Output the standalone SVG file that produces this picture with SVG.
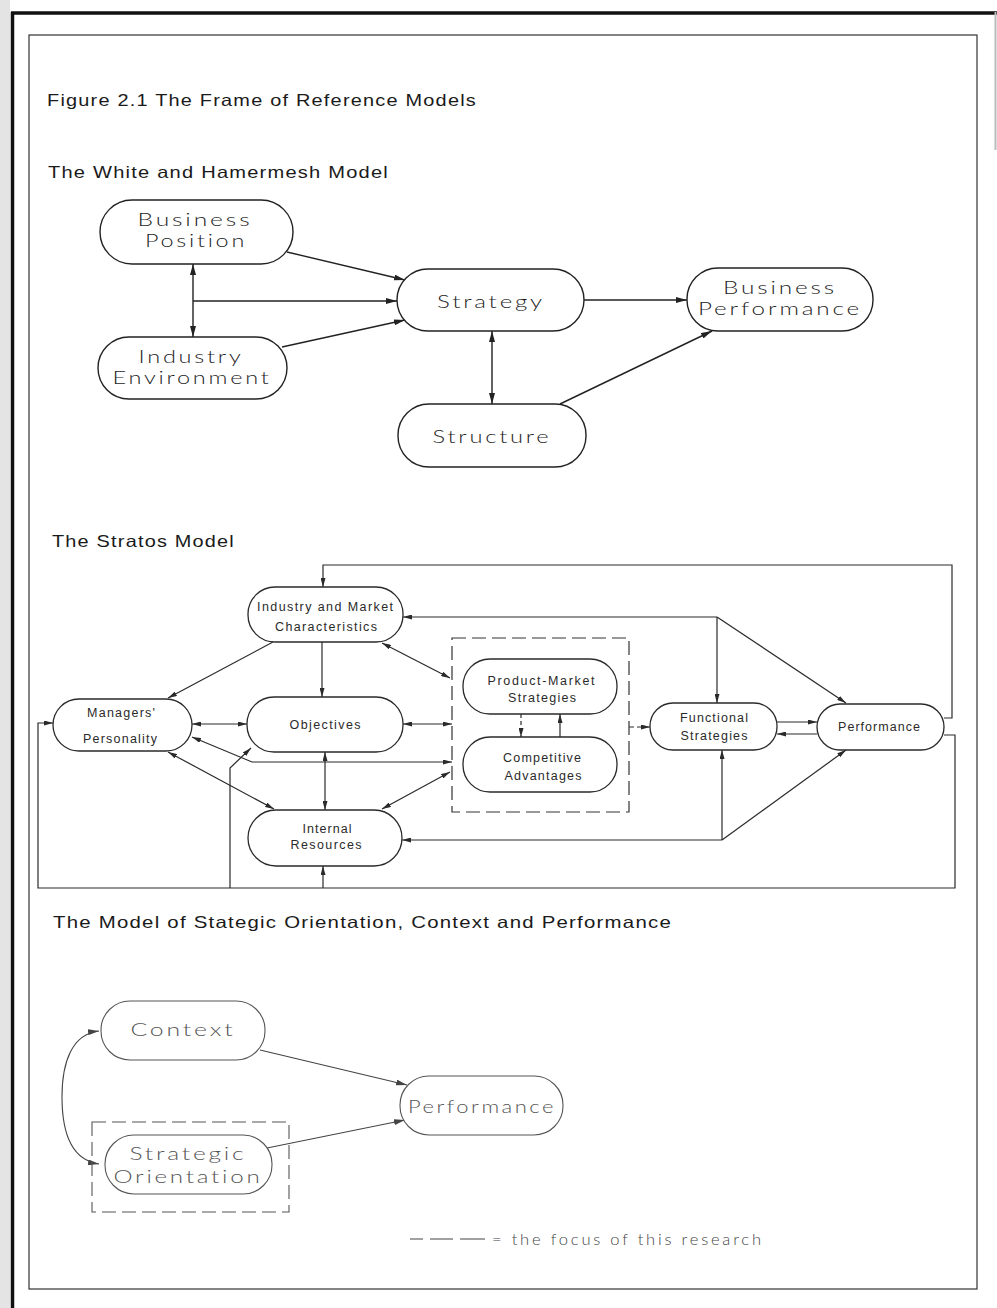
<svg xmlns="http://www.w3.org/2000/svg" width="997" height="1308" viewBox="0 0 997 1308">
  <style>
    .head { font-family: "Liberation Sans", Arial, sans-serif; font-size: 16.5px; letter-spacing: 1px; fill: #1a1a1a; }
    .wh { font-family: Lato, "Liberation Sans", Arial, sans-serif; font-weight: 300; font-size: 17px; letter-spacing: 2px; fill: #1e1e1e; text-anchor: middle; }
    .st { font-family: "Liberation Sans", Arial, sans-serif; font-size: 12.5px; fill: #2a2a2a; text-anchor: middle; }
    .sc { font-family: Lato, "Liberation Sans", Arial, sans-serif; font-weight: 300; font-size: 17.5px; letter-spacing: 2px; fill: #555; text-anchor: middle; }
    .legend { font-family: Lato, "Liberation Sans", Arial, sans-serif; font-weight: 300; font-size: 16.5px; fill: #444; }
    .box-wh { fill: #fff; stroke: #222; stroke-width: 1.4; }
    .box-st { fill: #fff; stroke: #2a2a2a; stroke-width: 1.3; }
    .box-sc { fill: #fff; stroke: #555; stroke-width: 1.1; }
    .dash { fill: none; stroke: #333; stroke-width: 1.2; stroke-dasharray: 14 6; }
    .dash-sc { fill: none; stroke: #555; stroke-width: 1.1; stroke-dasharray: 14 6; }
    .ln-wh { fill: none; stroke: #222; stroke-width: 1.4; }
    .ln-st { fill: none; stroke: #2a2a2a; stroke-width: 1.2; }
    .ln-sc { fill: none; stroke: #444; stroke-width: 1.1; }
  </style>
  <defs>
    <marker id="ah" viewBox="0 0 11 6" refX="11" refY="3" markerWidth="11" markerHeight="6" orient="auto-start-reverse" markerUnits="userSpaceOnUse">
      <path d="M0,0 L11,3 L0,6 z" fill="#222"/>
    </marker>
    <marker id="as" viewBox="0 0 9 5" refX="9" refY="2.5" markerWidth="9" markerHeight="5" orient="auto-start-reverse" markerUnits="userSpaceOnUse">
      <path d="M0,0 L9,2.5 L0,5 z" fill="#2a2a2a"/>
    </marker>
    <marker id="ac" viewBox="0 0 11 6" refX="11" refY="3" markerWidth="11" markerHeight="6" orient="auto-start-reverse" markerUnits="userSpaceOnUse">
      <path d="M0,0 L11,3 L0,6 z" fill="#444"/>
    </marker>
  </defs>

  <!-- page edge and outer rules -->
  <g id="page">
    <rect x="0" y="0" width="997" height="1308" fill="#fff"/>
    <rect x="0" y="0" width="10" height="1308" fill="#e4e4e4"/>
    <line x1="12.5" y1="12" x2="12.5" y2="1308" stroke="#111" stroke-width="3.5"/>
    <line x1="11" y1="13" x2="997" y2="13" stroke="#111" stroke-width="3.5"/>
    <line x1="995.5" y1="12" x2="995.5" y2="150" stroke="#bbb" stroke-width="2"/>
    <rect x="29" y="35" width="948" height="1254" fill="none" stroke="#333" stroke-width="1.2"/>
  </g>

  <!-- headings -->
  <g id="headings">
    <text class="head" x="47" y="106" textLength="430" lengthAdjust="spacingAndGlyphs">Figure 2.1 The Frame of Reference Models</text>
    <text class="head" x="48" y="178" textLength="341" lengthAdjust="spacingAndGlyphs">The White and Hamermesh Model</text>
    <text class="head" x="52" y="547" textLength="183" lengthAdjust="spacingAndGlyphs">The Stratos Model</text>
    <text class="head" x="53" y="928" textLength="619" lengthAdjust="spacingAndGlyphs">The Model of Stategic Orientation, Context and Performance</text>
  </g>

  <!-- White and Hamermesh: connectors -->
  <g id="wh-connectors">
    <path class="ln-wh" d="M287,252 L405,280" marker-end="url(#ah)"/>
    <path class="ln-wh" d="M193,264 V337" marker-start="url(#ah)" marker-end="url(#ah)"/>
    <path class="ln-wh" d="M193,301 H397" marker-end="url(#ah)"/>
    <path class="ln-wh" d="M282,347 L405,320" marker-end="url(#ah)"/>
    <path class="ln-wh" d="M584,300 H687" marker-end="url(#ah)"/>
    <path class="ln-wh" d="M492,331 V404" marker-start="url(#ah)" marker-end="url(#ah)"/>
    <path class="ln-wh" d="M560,404 L712,331" marker-end="url(#ah)"/>
  </g>

  <!-- White and Hamermesh: nodes -->
  <g id="wh-business-position">
    <rect class="box-wh" x="100" y="200" width="193" height="64" rx="32"/>
    <text class="wh" x="195" y="226" textLength="115" lengthAdjust="spacingAndGlyphs">Business</text>
    <text class="wh" x="196" y="247" textLength="102" lengthAdjust="spacingAndGlyphs">Position</text>
  </g>
  <g id="wh-industry-environment">
    <rect class="box-wh" x="98" y="337" width="189" height="62" rx="31"/>
    <text class="wh" x="191" y="363" textLength="105" lengthAdjust="spacingAndGlyphs">Industry</text>
    <text class="wh" x="192" y="384" textLength="159" lengthAdjust="spacingAndGlyphs">Environment</text>
  </g>
  <g id="wh-strategy">
    <rect class="box-wh" x="397" y="269" width="187" height="62" rx="31"/>
    <text class="wh" x="491" y="308" textLength="108" lengthAdjust="spacingAndGlyphs">Strategy</text>
  </g>
  <g id="wh-structure">
    <rect class="box-wh" x="398" y="404" width="188" height="63" rx="31"/>
    <text class="wh" x="492" y="443" textLength="119" lengthAdjust="spacingAndGlyphs">Structure</text>
  </g>
  <g id="wh-business-performance">
    <rect class="box-wh" x="687" y="268" width="186" height="63" rx="31"/>
    <text class="wh" x="780" y="294" textLength="114" lengthAdjust="spacingAndGlyphs">Business</text>
    <text class="wh" x="780" y="315" textLength="164" lengthAdjust="spacingAndGlyphs">Performance</text>
  </g>

  <!-- Stratos: connectors -->
  <g id="stratos-connectors">
    <!-- feedback loops around the model -->
    <path class="ln-st" d="M944,718 H952 V565 H323 V587" marker-end="url(#as)"/>
    <path class="ln-st" d="M944,735 H955 V888 H38 V723 H53" marker-end="url(#as)"/>
    <path class="ln-st" d="M323,888 V866" marker-end="url(#as)"/>
    <path class="ln-st" d="M230,888 V768 L251,748" marker-end="url(#as)"/>
    <!-- upper bracket -->
    <path class="ln-st" d="M717,617 H403" marker-end="url(#as)"/>
    <path class="ln-st" d="M717,617 V703" marker-end="url(#as)"/>
    <path class="ln-st" d="M717,617 L846,703" marker-end="url(#as)"/>
    <!-- lower bracket -->
    <path class="ln-st" d="M722,840 H402" marker-end="url(#as)"/>
    <path class="ln-st" d="M722,840 V750" marker-end="url(#as)"/>
    <path class="ln-st" d="M722,840 L846,750" marker-end="url(#as)"/>
    <!-- inner links -->
    <path class="ln-st" d="M273,642 L168,698" marker-end="url(#as)"/>
    <path class="ln-st" d="M322,642 V697" marker-end="url(#as)"/>
    <path class="ln-st" d="M382,643 L450,678" marker-start="url(#as)" marker-end="url(#as)"/>
    <path class="ln-st" d="M192,724 H247" marker-start="url(#as)" marker-end="url(#as)"/>
    <path class="ln-st" d="M403,724 H452" marker-start="url(#as)" marker-end="url(#as)"/>
    <path class="ln-st" d="M192,737 L252,762 H452" marker-start="url(#as)" marker-end="url(#as)"/>
    <path class="ln-st" d="M168,752 L274,809" marker-start="url(#as)" marker-end="url(#as)"/>
    <path class="ln-st" d="M325,752 V810" marker-start="url(#as)" marker-end="url(#as)"/>
    <path class="ln-st" d="M382,809 L450,772" marker-start="url(#as)" marker-end="url(#as)"/>
    <path class="ln-st" d="M521,714 V737" stroke-dasharray="4 3" marker-end="url(#as)"/>
    <path class="ln-st" d="M560,737 V714" marker-end="url(#as)"/>
    <path class="ln-st" d="M629,727 H650" stroke-dasharray="5 3" marker-end="url(#as)"/>
    <path class="ln-st" d="M777,722 H817" marker-end="url(#as)"/>
    <path class="ln-st" d="M817,734 H777" marker-end="url(#as)"/>
  </g>

  <!-- Stratos: nodes -->
  <g id="st-focus-box">
    <rect class="dash" x="452" y="638" width="177" height="174"/>
  </g>
  <g id="st-industry-market">
    <rect class="box-st" x="248" y="587" width="155" height="55" rx="27"/>
    <text class="st" x="325" y="611" textLength="136" lengthAdjust="spacing">Industry and Market</text>
    <text class="st" x="326" y="631" textLength="102" lengthAdjust="spacing">Characteristics</text>
  </g>
  <g id="st-managers-personality">
    <rect class="box-st" x="53" y="699" width="139" height="52" rx="26"/>
    <text class="st" x="121" y="717" textLength="68" lengthAdjust="spacing">Managers'</text>
    <text class="st" x="120" y="743" textLength="74" lengthAdjust="spacing">Personality</text>
  </g>
  <g id="st-objectives">
    <rect class="box-st" x="247" y="697" width="156" height="55" rx="27"/>
    <text class="st" x="325" y="729" textLength="71" lengthAdjust="spacing">Objectives</text>
  </g>
  <g id="st-internal-resources">
    <rect class="box-st" x="248" y="810" width="154" height="56" rx="28"/>
    <text class="st" x="327" y="833" textLength="49" lengthAdjust="spacing">Internal</text>
    <text class="st" x="326" y="849" textLength="71" lengthAdjust="spacing">Resources</text>
  </g>
  <g id="st-product-market">
    <rect class="box-st" x="463" y="659" width="154" height="55" rx="27"/>
    <text class="st" x="541" y="685" textLength="107" lengthAdjust="spacing">Product-Market</text>
    <text class="st" x="542" y="702" textLength="68" lengthAdjust="spacing">Strategies</text>
  </g>
  <g id="st-competitive-advantages">
    <rect class="box-st" x="463" y="737" width="154" height="55" rx="27"/>
    <text class="st" x="542" y="762" textLength="78" lengthAdjust="spacing">Competitive</text>
    <text class="st" x="543" y="780" textLength="77" lengthAdjust="spacing">Advantages</text>
  </g>
  <g id="st-functional-strategies">
    <rect class="box-st" x="650" y="703" width="127" height="47" rx="23"/>
    <text class="st" x="714" y="722" textLength="68" lengthAdjust="spacing">Functional</text>
    <text class="st" x="714" y="740" textLength="67" lengthAdjust="spacing">Strategies</text>
  </g>
  <g id="st-performance">
    <rect class="box-st" x="817" y="704" width="127" height="46" rx="23"/>
    <text class="st" x="879" y="731" textLength="82" lengthAdjust="spacing">Performance</text>
  </g>

  <!-- Strategic orientation model: connectors -->
  <g id="sc-connectors">
    <path class="ln-sc" d="M99,1031 C72,1034 62,1062 62,1097 C62,1134 72,1160 99,1164" marker-start="url(#ac)" marker-end="url(#ac)"/>
    <path class="ln-sc" d="M260,1050 L407,1085" marker-end="url(#ac)"/>
    <path class="ln-sc" d="M267,1148 L405,1120" marker-end="url(#ac)"/>
  </g>

  <!-- Strategic orientation model: nodes -->
  <g id="sc-context">
    <rect class="box-sc" x="101" y="1001" width="164" height="59" rx="29"/>
    <text class="sc" x="183" y="1036" textLength="105" lengthAdjust="spacingAndGlyphs">Context</text>
  </g>
  <g id="sc-performance">
    <rect class="box-sc" x="400" y="1076" width="163" height="59" rx="29"/>
    <text class="sc" x="482" y="1113" textLength="148" lengthAdjust="spacingAndGlyphs">Performance</text>
  </g>
  <g id="sc-focus-box">
    <rect class="dash-sc" x="92" y="1122" width="197" height="90"/>
  </g>
  <g id="sc-strategic-orientation">
    <rect class="box-sc" x="105" y="1135" width="167" height="59" rx="29"/>
    <text class="sc" x="188" y="1160" textLength="117" lengthAdjust="spacingAndGlyphs">Strategic</text>
    <text class="sc" x="188" y="1183" textLength="149" lengthAdjust="spacingAndGlyphs">Orientation</text>
  </g>

  <!-- legend: three dashes, then the key text -->
  <g id="legend">
    <g stroke="#555" stroke-width="1.1">
      <line x1="410" y1="1239" x2="423" y2="1239"/>
      <line x1="430" y1="1239" x2="453" y2="1239"/>
      <line x1="460" y1="1239" x2="485" y2="1239"/>
    </g>
    <text class="legend" x="492" y="1245" textLength="269" lengthAdjust="spacing">= the focus of this research</text>
  </g>
</svg>
